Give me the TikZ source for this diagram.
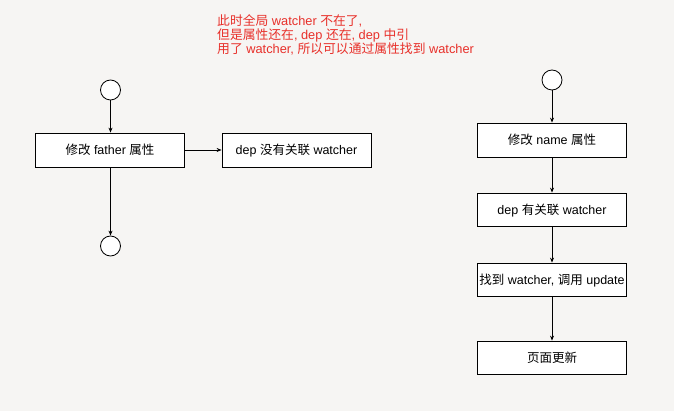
\documentclass[tikz,border=0pt]{standalone}
\usepackage{fontspec}
\setmainfont{Liberation Sans}
\newfontfamily\cjk{Noto Sans CJK SC}
\newcommand{\zh}[1]{{\cjk #1}}
\usetikzlibrary{arrows.meta}
\definecolor{bg}{HTML}{F6F5F3}
\definecolor{note}{HTML}{E8302A}
\tikzset{
  stepbox/.style={draw=black, line width=0.8pt, fill=white, minimum width=149pt, minimum height=34pt, inner sep=0pt, text height=9.5pt, text depth=0pt, font=\fontsize{12.5}{14}\selectfont},
  endpt/.style={draw=black, line width=0.8pt, fill=white, circle, minimum size=20pt, inner sep=0pt},
  conn/.style={draw=black, line width=0.8pt, -{Stealth[length=5pt,width=4pt]}}
}
\begin{document}
\begin{tikzpicture}[x=1pt,y=-1pt]
\fill[bg] (0,0) rectangle (674,411);
\useasboundingbox (0,0) rectangle (674,411);
% note
\node[anchor=north west, align=left, text=note, inner sep=0pt, font=\fontsize{12.8}{14}\selectfont] (note) at (217,14)
  {\zh{此时全局} watcher \zh{不在了},\\\zh{但是属性还在}, dep \zh{还在}, dep \zh{中引}\\\zh{用了} watcher, \zh{所以可以通过属性找到} watcher};
% left column
\node[endpt] (ls) at (110.5,90) {};
\node[stepbox] (lf) at (110,150) {\zh{修改} father \zh{属性}};
\node[endpt] (le) at (110.5,246) {};
\node[stepbox] (ld) at (296.5,150) {dep \zh{没有关联} watcher};
\draw[conn] (ls) -- (lf.north -| ls);
\draw[conn] (lf.south -| le) -- (le);
\draw[conn] (lf) -- (ld);
% right column
\node[endpt] (rs) at (552,80) {};
\node[stepbox] (r1) at (552,140) {\zh{修改} name \zh{属性}};
\node[stepbox, minimum height=33pt] (r2) at (552,209.5) {dep \zh{有关联} watcher};
\node[stepbox, minimum height=33pt] (r3) at (552,279.5) {\zh{找到} watcher, \zh{调用} update};
\node[stepbox, minimum height=33pt] (r4) at (552,357.5) {\zh{页面更新}};
\draw[conn] (rs) -- (r1);
\draw[conn] (r1) -- (r2);
\draw[conn] (r2) -- (r3);
\draw[conn] (r3) -- (r4);
\end{tikzpicture}
\end{document}
